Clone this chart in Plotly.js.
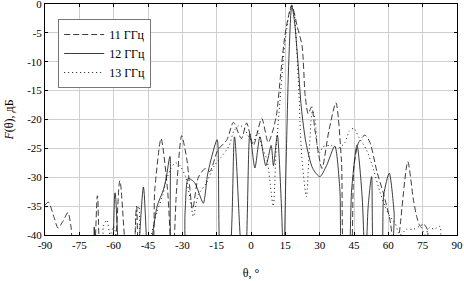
<!DOCTYPE html>
<html><head><meta charset="utf-8">
<script src="https://cdn.plot.ly/plotly-3.0.1.min.js"></script>
<style>html,body{margin:0;padding:0;background:#fff}#c{width:464px;height:281px}</style>
</head><body><div id="c"></div>
<script>
// 11 GHz (dashed)
const theta11 = [-90,-88.5,-86,-84.3,-82,-80,-78.5,-77.5,-72,-69.5,-67.1,-64.8,-61,-57.3,-53.5,-52,-50,-48,-44,-42,-39.3,-36.5,-34.3,-32.5,-30.3,-28,-25.5,-23,-20,-18,-14.5,-10.5,-7.7,-4.2,-1.9,1,4.7,7.5,9.5,11.2,13,15,17.8,20.2,22.3,23.7,25,26.5,28,31,34,37.1,39.5,41.2,43,45,47,49.8,52,55,58,61,63,65,68.5,71,72.5,74,75.2,77,79,90];
const f11 = [-34.8,-34.3,-37,-38.8,-37.5,-36.1,-39,-46,-46,-46,-33.2,-46,-46,-30.6,-46,-46,-35,-46,-46,-32,-23.3,-32,-46,-32,-22.8,-27,-35.5,-30,-28.5,-29,-25.3,-23.5,-20.5,-23.3,-20.6,-24.5,-19.8,-24,-22,-19,-12,-5,-0.2,-3.9,-7.2,-16,-19,-17.8,-22,-28.5,-22,-17.1,-27,-46,-46,-28,-24,-22.7,-24,-29,-33,-38,-46,-39,-27.3,-34,-37,-38.5,-38,-39,-46,-46];
// 12 GHz (solid)
const theta12 = [-90,-70,-68.5,-67,-62,-59.4,-56.5,-54,-52,-50,-47,-44.8,-43,-41,-38.3,-37,-35.4,-33.8,-30,-28.8,-27.4,-24.5,-22.5,-20.8,-19,-17.5,-14.8,-12.6,-10.2,-7.2,-3.4,-2.8,-0.5,1.7,3.9,6.5,8.8,9.8,11.5,13.3,14.3,15.2,16.5,17.8,19,20.5,22,24,27,30.1,33,36.6,38.8,40.2,42,44,46.3,48.5,50,51.2,52.7,54.3,56.5,58,60.4,62.5,63.8,90];
const f12 = [-46,-46,-38.6,-46,-46,-32.7,-46,-46,-40,-46,-31.7,-46,-40,-35,-32.2,-30,-26.4,-46,-46,-36,-30.2,-31,-33,-34.5,-29.6,-27,-23.5,-46,-46,-23,-46,-46,-22.5,-28.4,-23,-28,-24.5,-28,-22.7,-35,-46,-30,-10,-0.3,-3,-10,-18,-24,-28.5,-29.9,-28,-24.6,-32,-46,-46,-32,-24.4,-33,-46,-35,-29.9,-46,-46,-33,-29.3,-36,-46,-46];
// 13 GHz (dotted)
const theta13 = [-90,-66,-64.5,-63,-61.5,-60,-56,-52,-50,-49,-47.5,-45,-43.5,-41,-38.5,-37,-35,-33,-31,-28.5,-26.5,-25.2,-23,-19.5,-16,-13,-9.5,-7.5,-5,-3,-1,1,3,5,7,9.7,11,12.7,14.5,16.5,17.9,19,20,21,21.6,22.5,24.2,25.5,26.8,28,29.5,31.6,35,38,41,43,45,47,50.5,53,56.3,58.5,60.7,63,65,68,71,74,76,78,80,82.5,83.5,90];
const f13 = [-46,-46,-38.5,-37.4,-40,-38.5,-46,-46,-36,-35,-46,-46,-40,-36,-33,-30.5,-28.5,-27.5,-28,-30,-34,-36.8,-33,-31,-28,-26.5,-24.5,-22,-21,-21.5,-23,-24,-22,-25,-27,-35,-25,-16.6,-8,-2,-0.3,-2,-8,-16,-22.4,-28,-33.4,-25,-18.5,-20,-26,-24.7,-24.5,-25,-24,-22,-21.5,-23,-25.3,-28,-32.5,-35,-36.8,-38,-40,-39,-39,-38.5,-40,-38.7,-39,-38.5,-46,-46];

const xTicks = [-90,-75,-60,-45,-30,-15,0,15,30,45,60,75,90];
const xTickText = ["-90","-75","-60","-45","-30","-15","0","15","30","45","60","75","90"];
const yTicks = [-40,-35,-30,-25,-20,-15,-10,-5,0];
const yTickText = ["-40","-35","-30","-25","-20","-15","-10","-5","0"];
const names = ["11 ГГц","12 ГГц","13 ГГц"];

const common = {type:'scatter', mode:'lines', line:{color:'#1a1a1a', width:0.85, shape:'spline', smoothing:0.7}};
const data = [
  Object.assign({}, common, {x:theta11, y:f11, name:names[0], line:Object.assign({}, common.line, {dash:'6px,3px'})}),
  Object.assign({}, common, {x:theta12, y:f12, name:names[1], line:Object.assign({}, common.line, {dash:'solid'})}),
  Object.assign({}, common, {x:theta13, y:f13, name:names[2], line:Object.assign({}, common.line, {dash:'1px,3px', width:1})})
];
const fam = 'Liberation Serif';
const layout = {
  width:464, height:281,
  margin:{l:45, r:7, t:4, b:46},
  paper_bgcolor:'#fff', plot_bgcolor:'#fff',
  font:{family:fam, color:'#000', size:11},
  showlegend:true,
  legend:{x:0.032, y:0.935, xanchor:'left', yanchor:'top', bgcolor:'#fff', bordercolor:'#777', borderwidth:1,
          font:{family:fam, size:12, color:'#000'}, tracegroupgap:0, itemwidth:40},
  xaxis:{range:[-90,90], tickvals:xTicks, ticktext:xTickText, showgrid:true, gridcolor:'#cfcfcf', gridwidth:1,
         zeroline:false, showline:true, linecolor:'#000', linewidth:1, mirror:'ticks', ticks:'inside', ticklen:3,
         tickcolor:'#000', ticklabeloverflow:'allow', tickfont:{family:fam, size:11},
         title:{text:'θ, °', font:{family:fam, size:12}, standoff:18}},
  yaxis:{range:[-40,0], tickvals:yTicks, ticktext:yTickText, showgrid:true, gridcolor:'#cfcfcf', gridwidth:1,
         zeroline:false, showline:true, linecolor:'#000', linewidth:1, mirror:'ticks', ticks:'inside', ticklen:3,
         tickcolor:'#000', ticklabeloverflow:'allow', tickfont:{family:fam, size:11},
         title:{text:'<i>F</i>(θ), дБ', font:{family:fam, size:12}, standoff:10}}
};
Plotly.newPlot('c', data, layout, {staticPlot:true, displayModeBar:false});
</script></body></html>
